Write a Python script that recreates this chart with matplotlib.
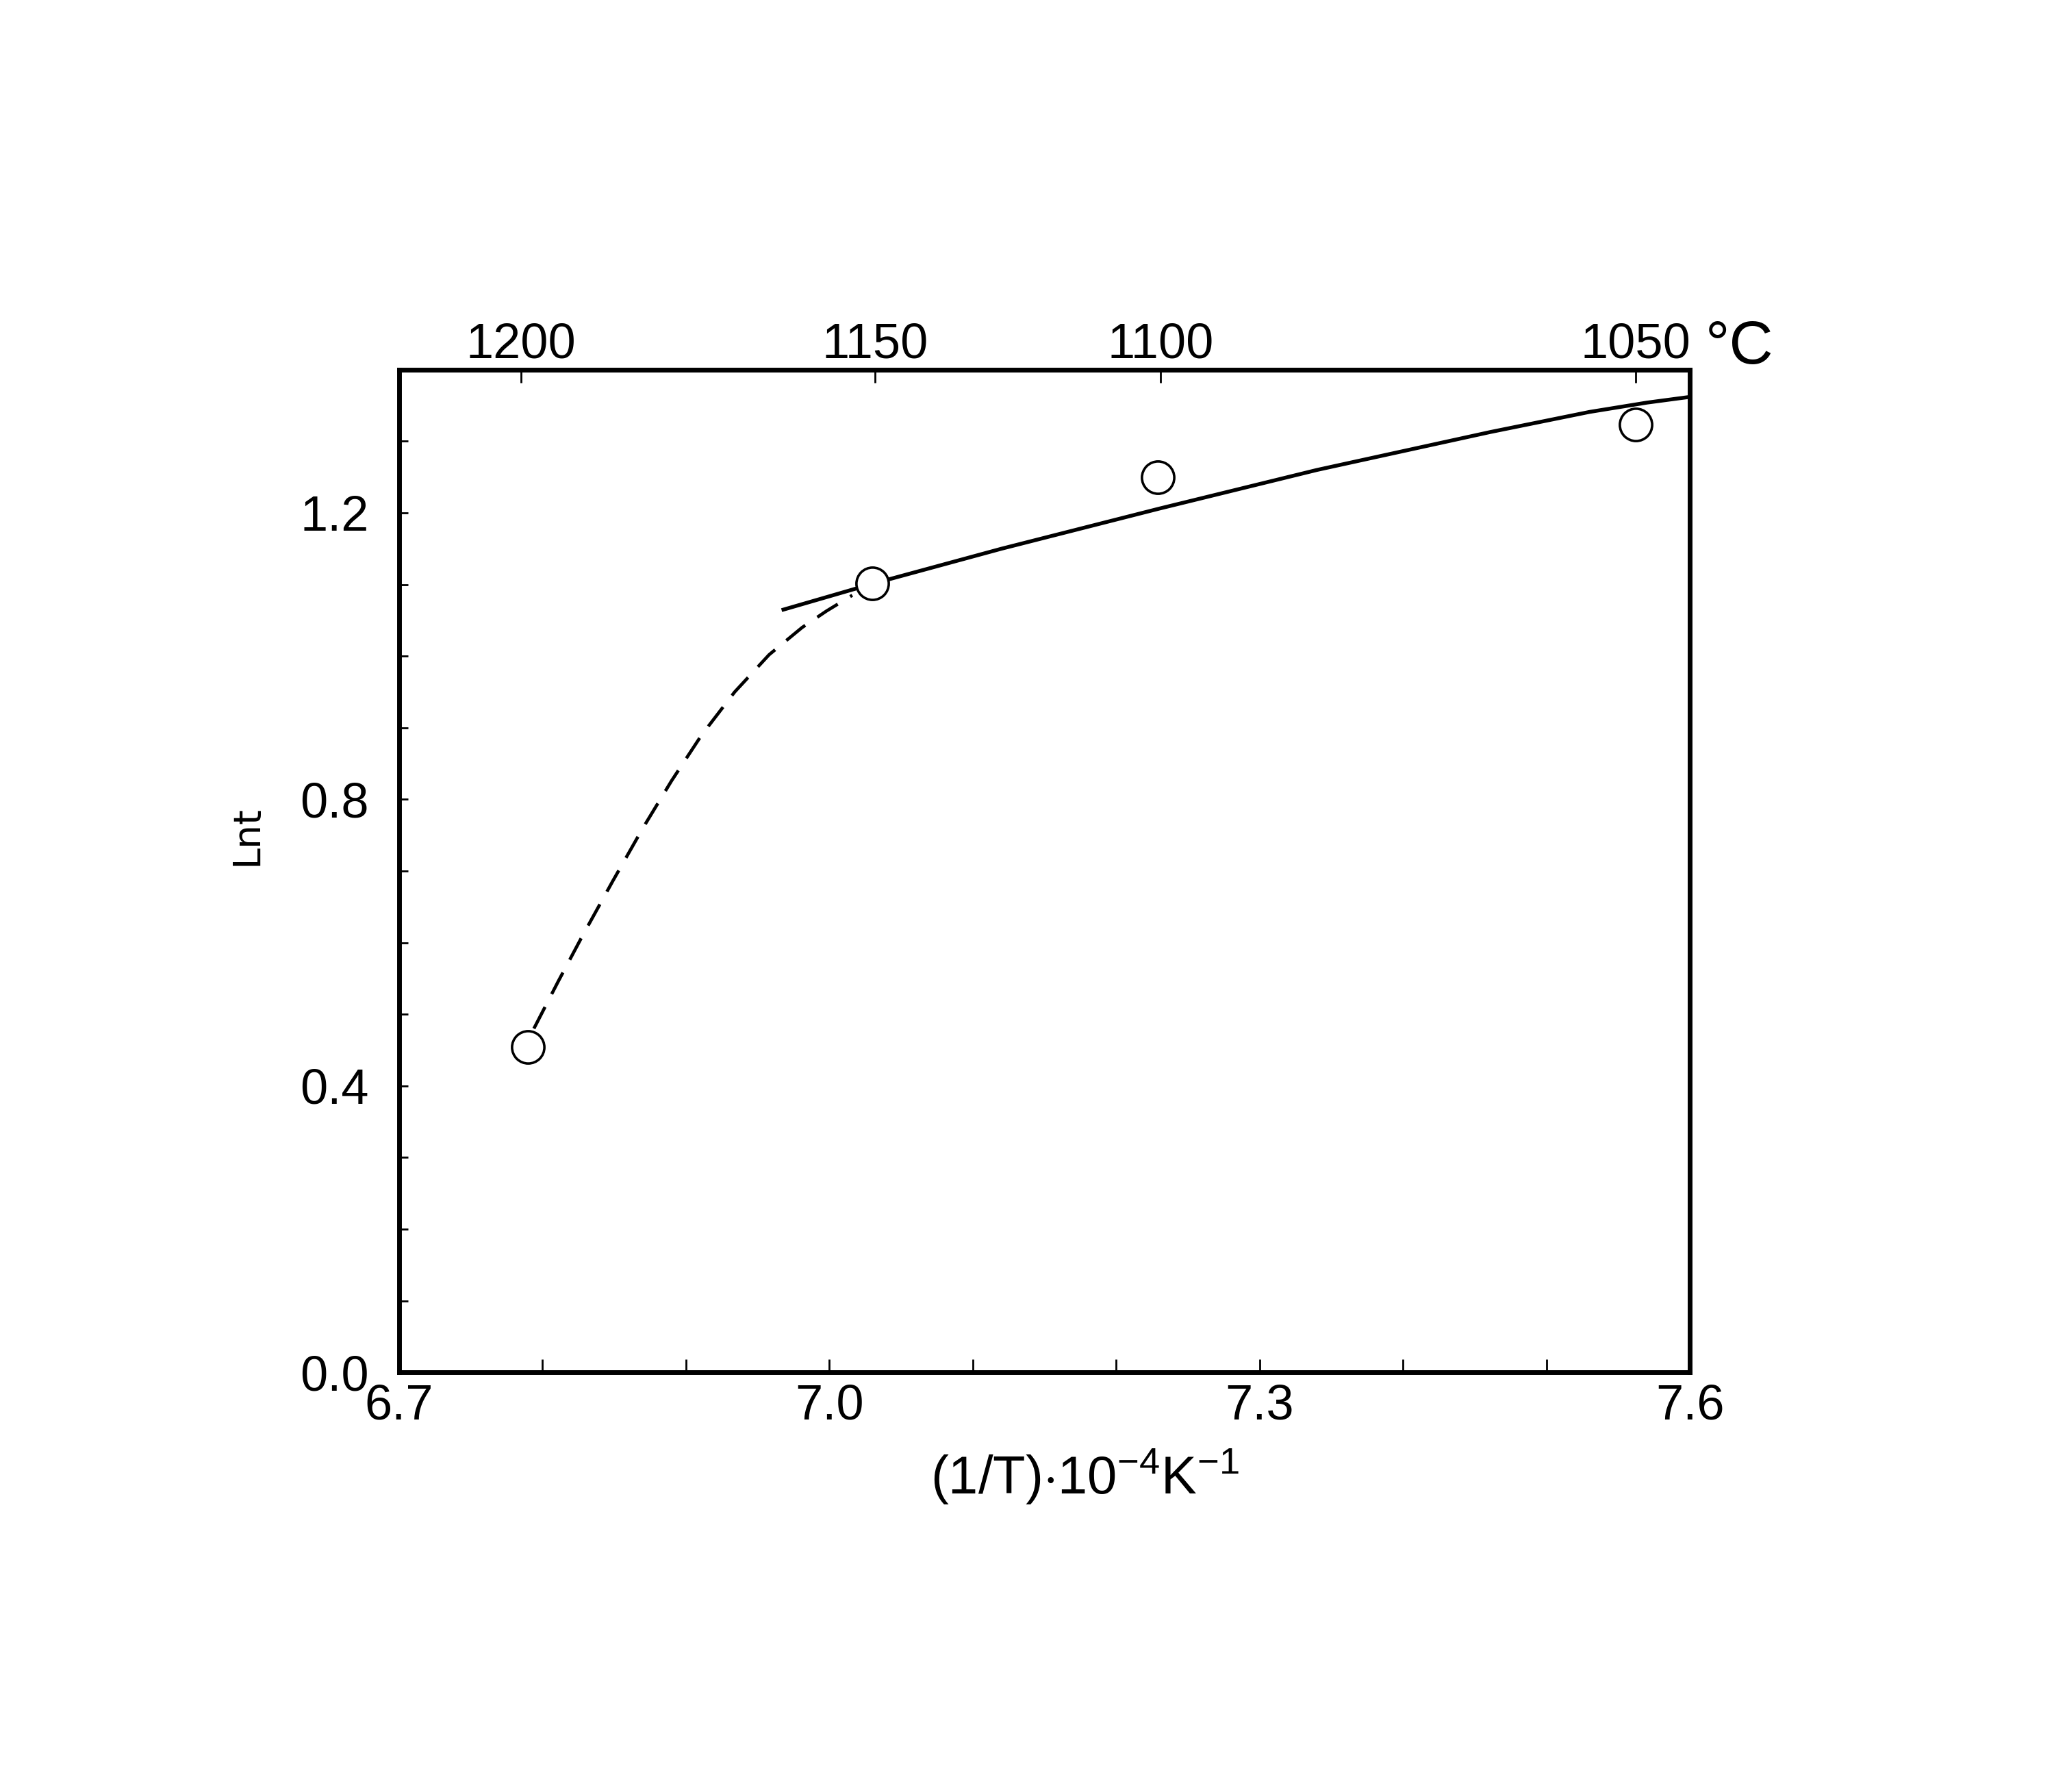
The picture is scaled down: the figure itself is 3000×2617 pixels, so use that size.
import numpy as np
import matplotlib
matplotlib.use("Agg")
from matplotlib import pyplot as plt

# Lnt against reciprocal temperature
pts_x = [6.790, 7.030, 7.229, 7.562]
pts_y = [0.454, 1.102, 1.250, 1.323]

# dashed curve (high temperature side)
dash_x = [6.794, 6.811, 6.828, 6.849, 6.870, 6.890, 6.911, 6.934, 6.958, 6.981, 6.998, 7.016]
dash_y = [0.480, 0.546, 0.610, 0.686, 0.760, 0.826, 0.890, 0.950, 1.002, 1.040, 1.063, 1.085]

# solid fitted line
line_x = [6.968, 7.030, 7.120, 7.230, 7.340, 7.461, 7.530, 7.570, 7.600]
line_y = [1.065, 1.101, 1.150, 1.206, 1.260, 1.313, 1.341, 1.354, 1.362]

# top temperature scale (degC) and where its ticks sit on the 1/T axis
top_labels = ['1200', '1150', '1100', '1050']
top_pos = [6.785, 7.032, 7.231, 7.562]

x_labels = ['6.7', '7.0', '7.3', '7.6']
y_labels = ['0.0', '0.4', '0.8', '1.2']

plt.rcParams['font.family'] = ['Liberation Sans', 'DejaVu Sans']
plt.rcParams['mathtext.fontset'] = 'custom'
plt.rcParams['mathtext.rm'] = 'Liberation Sans'
plt.rcParams['mathtext.it'] = 'Liberation Sans'

fig = plt.figure(figsize=(15, 13.085), dpi=200)
ax = fig.add_axes([0.1943, 0.2342, 0.6284, 0.5595])

ax.plot(dash_x, dash_y, color='black', lw=1.7, dashes=(7.5, 4.5), zorder=2)
ax.plot(line_x, line_y, color='black', lw=2.0, zorder=2)
ax.plot(pts_x, pts_y, 'o', ms=17, mfc='white', mec='black', mew=1.3, zorder=3)

ax.set_xlim(6.7, 7.6)
ax.set_ylim(0.0, 1.4)

ax.set_xticks(np.arange(6.7, 7.61, 0.1), minor=True)
ax.set_xticks([float(s) for s in x_labels])
ax.set_xticklabels(x_labels)
ax.set_yticks(np.arange(0.0, 1.41, 0.1), minor=True)
ax.set_yticks([float(s) for s in y_labels])
ax.set_yticklabels(y_labels)

ax.tick_params(axis='x', which='both', direction='in', length=7, width=1.0, pad=6, labelsize=26)
ax.tick_params(axis='y', which='both', direction='in', length=4.5, width=1.0, pad=16, labelsize=26)
ax.tick_params(right=False, top=False)

for s in ax.spines.values():
    s.set_linewidth(2.5)

ax2 = ax.twiny()
ax2.set_xlim(ax.get_xlim())
ax2.set_xticks(top_pos)
ax2.set_xticklabels(top_labels)
ax2.tick_params(axis='x', direction='in', length=7, width=1.0, pad=1, labelsize=26)
for s in ax2.spines.values():
    s.set_visible(False)

fig.text(0.8467, 0.806, '°C', fontsize=32, ha='center', va='center')
fig.text(0.1200, 0.5338, 'Lnt', fontsize=20, family='DejaVu Sans', rotation=90,
         ha='center', va='center')
fig.text(0.528, 0.176, r'(1/T)$\cdot$10$^{-4}$K$^{-1}$', fontsize=28,
         ha='center', va='center')

fig.savefig('out.png', dpi=200, facecolor='white')
